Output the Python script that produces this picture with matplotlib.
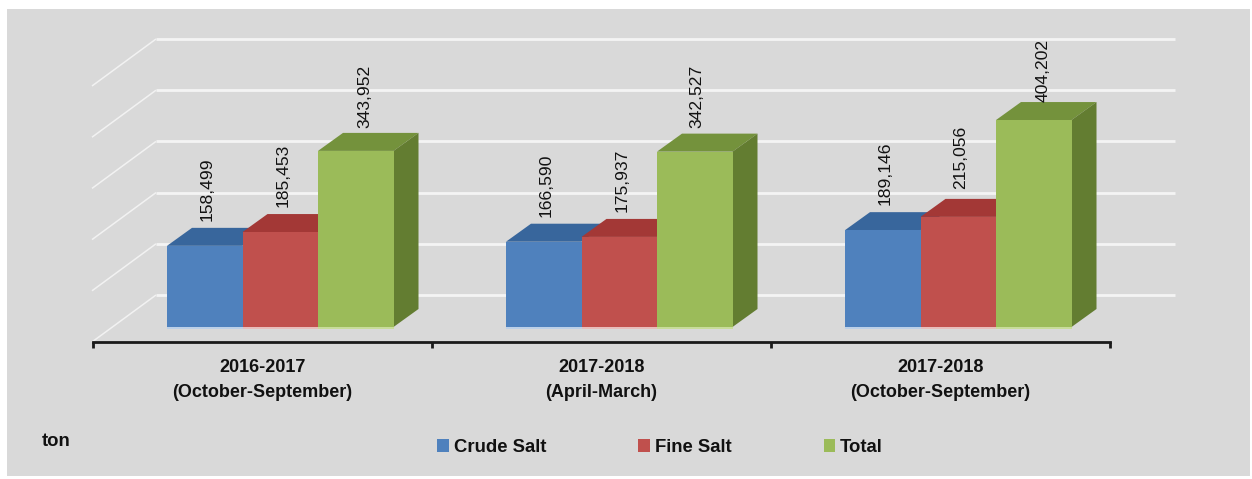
import matplotlib
matplotlib.use("Agg")
import matplotlib.pyplot as plt
from matplotlib.patches import Polygon, Rectangle

# data
periods = ["2016-2017\n(October-September)", "2017-2018\n(April-March)", "2017-2018\n(October-September)"]
crude_salt = [158499, 166590, 189146]
fine_salt = [185453, 175937, 215056]
total = [343952, 342527, 404202]
grid_values = [0, 100000, 200000, 300000, 400000, 500000]

W, H = 1252, 479
PX_X = 339.0        # pixels per category
PX_V = 0.000512     # pixels per ton
X0_PX, Y0_PX = 93, 327   # where x=0 and value=0 sit in the picture

BG = "#D9D9D9"
FRONT = ["#4F81BD", "#C0504D", "#9BBB59"]
TOP = ["#38669C", "#A33836", "#74923C"]
HALO = ["#BCD0E8", "#E8BDBB", "#C8DC9A"]
SIDE = "#637D31"
INK = "#111111"

plt.rcParams["font.family"] = ["Liberation Sans", "DejaVu Sans"]


def dx(px):
    return px / PX_X


def dv(px):
    return px / PX_V


fig = plt.figure(figsize=(W / 100, H / 100), dpi=100, facecolor="white")
fig.add_artist(Rectangle((7 / W, 1 - 476 / H), 1243 / W, 467 / H, transform=fig.transFigure,
                         facecolor=BG, edgecolor="none", zorder=-5))
ax = fig.add_axes([0, 0, 1, 1], facecolor="none")
ax.set_xlim(dx(-X0_PX), dx(W - X0_PX))
ax.set_ylim(dv(Y0_PX - H), dv(Y0_PX))

# back wall and floor lines
for v in grid_values:
    y_back = v + dv(32)
    y_front = y_back - dv(47)
    ax.plot([dx(-1), dx(63)], [y_front, y_back], color="#F2F2F2", lw=1.1, solid_capstyle="butt", zorder=1)
    ax.plot([dx(63), dx(1082)], [y_back, y_back], color="#F4F4F4", lw=2, solid_capstyle="butt", zorder=1)

# bars with a fake 3d depth
bar_w = dx(75.5)
start = dx(74)
depth_x, depth_y = dx(25), dv(18)
series = [crude_salt, fine_salt, total]
names = ["Crude Salt", "Fine Salt", "Total"]
# hand nudges for the value labels, in points
label_dx = [[1.5, 1.5, 1.5], [2, 2, 2], [6.5, 1.5, 7]]
label_dy = [[18, 18, 18], [18, 18, 20], [16.5, 17, 13]]
handles = []
for s, vals in enumerate(series):
    lefts = [i + start + s * bar_w for i in range(3)]
    for left, v in zip(lefts, vals):
        ax.add_patch(Polygon([(left, v), (left + depth_x, v + depth_y),
                              (left + bar_w + depth_x, v + depth_y), (left + bar_w, v)],
                             facecolor=TOP[s], edgecolor="none", zorder=2 + s))
        if s == 2:
            ax.add_patch(Polygon([(left + bar_w, 0), (left + bar_w + depth_x, depth_y),
                                  (left + bar_w + depth_x, v + depth_y), (left + bar_w, v)],
                                 facecolor=SIDE, edgecolor="none", zorder=2 + s))
    # light fringe under the bars
    ax.bar(lefts, dv(2), bottom=dv(-2), width=bar_w, align="edge", color=HALO[s], zorder=2 + s)
    bars = ax.bar(lefts, vals, width=bar_w, align="edge", color=FRONT[s], label=names[s], zorder=2.5 + s)
    handles.append(bars)
    for i, (left, v) in enumerate(zip(lefts, vals)):
        ax.annotate(f"{v:,}", (left + bar_w / 2, v), xytext=(label_dx[s][i], label_dy[s][i]),
                    textcoords="offset points", rotation=90, ha="center", va="bottom",
                    fontsize=12.6, color=INK, zorder=8)

# axis
for name in ["top", "left", "right"]:
    ax.spines[name].set_visible(False)
ax.spines["bottom"].set_position(("data", dv(-15)))
ax.spines["bottom"].set_bounds(0, 3)
ax.spines["bottom"].set_linewidth(2)
ax.spines["bottom"].set_color("#1A1A1A")
ax.set_xticks([0, 1, 2, 3], labels=[])
ax.set_xticks([0.5, 1.5, 2.5], labels=periods, minor=True)
ax.tick_params(axis="x", which="major", length=4.5, width=2, color="#1A1A1A")
ax.tick_params(axis="x", which="minor", length=0, pad=12.5, labelsize=13, labelcolor=INK)
for t in ax.get_xticklabels(minor=True):
    t.set_fontweight("bold")
    t.set_linespacing(1.6)
ax.set_yticks([])

ax.text(dx(42 - X0_PX), dv(Y0_PX - 442), "ton", fontsize=13.3, fontweight="bold", color=INK, va="center")

leg = ax.legend(handles, names, ncol=3, loc="center left", bbox_to_anchor=(420.5 / W, 1 - 447 / H),
                frameon=False, handlelength=0.62, handleheight=0.7, handletextpad=0.27,
                columnspacing=5.0, labelcolor=INK, prop={"weight": "bold", "size": 13.3})

fig.savefig("out.png", dpi=100)
